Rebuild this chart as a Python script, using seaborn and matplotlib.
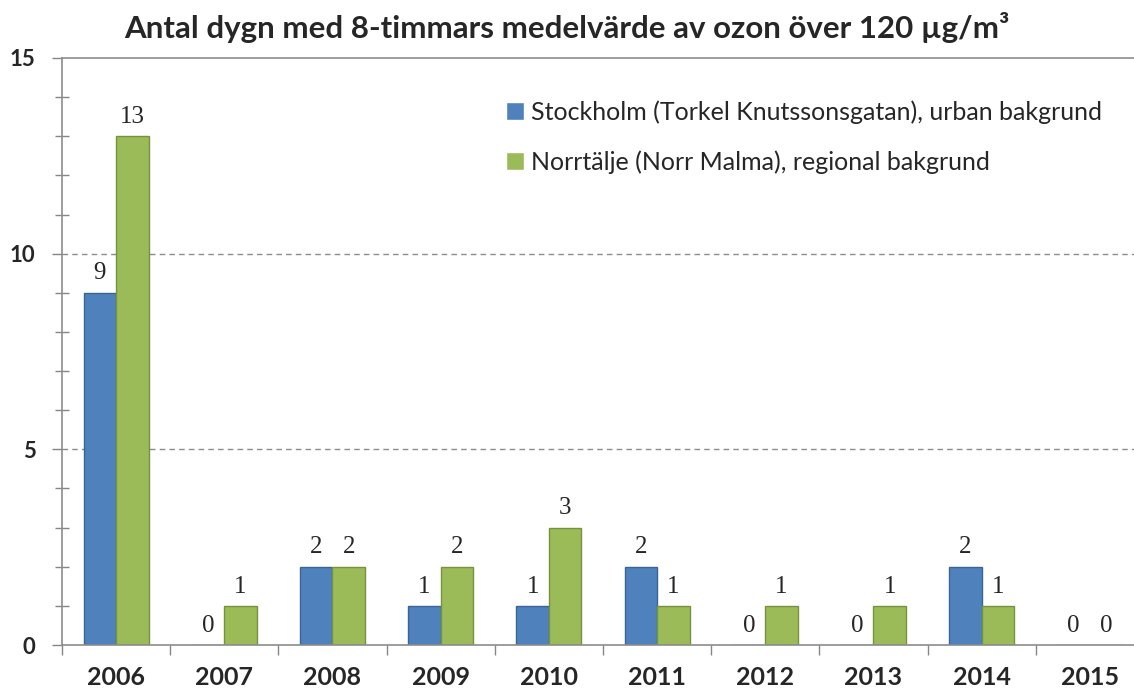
import pandas as pd
import matplotlib.pyplot as plt
import seaborn as sns
from matplotlib.ticker import MultipleLocator, FixedLocator

# Data
years = ['2006', '2007', '2008', '2009', '2010', '2011', '2012', '2013', '2014', '2015']
stockholm = [9, 0, 2, 1, 1, 2, 0, 0, 2, 0]
norrtalje = [13, 1, 2, 2, 3, 1, 1, 1, 1, 0]
series = ['Stockholm (Torkel Knutssonsgatan), urban bakgrund',
          'Norrtälje (Norr Malma), regional bakgrund']

data = pd.DataFrame({
    'year': years * 2,
    'days': stockholm + norrtalje,
    'station': [series[0]] * len(years) + [series[1]] * len(years),
})

sns.set_style('white')
plt.rcParams['font.family'] = ['Lato', 'DejaVu Sans']

fig = plt.figure(figsize=(11.34, 6.88), dpi=100)
ax = fig.add_axes([62 / 1134, 1 - 645 / 688, 1 - 62 / 1134, (645 - 58) / 688])

sns.barplot(data=data, x='year', y='days', hue='station', order=years,
            hue_order=series, palette=['#4F81BD', '#9BBB59'],
            width=0.6, gap=0, saturation=1, ax=ax)

# darker outlines like the original
for cont, ec in zip(ax.containers, ['#3A6496', '#76923C']):
    for bar in cont:
        bar.set_edgecolor(ec)
        bar.set_linewidth(1.0)
    ax.bar_label(cont, fmt='%d', padding=6, fontsize=18,
                 family=['Liberation Serif'])

ax.set_ylim(0, 15)
ax.set_xlim(-0.5, (1134 - 116) / 108.2)
ax.set_xlabel('')
ax.set_ylabel('')

ax.yaxis.set_major_locator(MultipleLocator(5))
ax.yaxis.set_minor_locator(MultipleLocator(1))
ax.xaxis.set_minor_locator(FixedLocator([i - 0.5 for i in range(len(years) + 1)]))

ax.tick_params(axis='y', which='major', direction='out', length=7, width=1,
               color='#868686', labelsize=16, pad=12, left=True)
ax.tick_params(axis='y', which='minor', direction='inout', length=10, width=1,
               color='#868686', left=True)
ax.tick_params(axis='x', which='major', length=0, labelsize=18, pad=15)
ax.tick_params(axis='x', which='minor', direction='out', length=7, width=1,
               color='#868686', bottom=True)
for lbl in ax.get_xticklabels() + ax.get_yticklabels():
    lbl.set_fontweight('bold')

# dashed gridlines at 5 and 10
for v in [5, 10]:
    ax.axhline(v, color='#8C8C8C', linestyle=(0, (4, 3)), linewidth=1, zorder=0)

for side in ['left', 'bottom', 'top']:
    ax.spines[side].set_color('#8C8C8C')
    ax.spines[side].set_linewidth(1.2)
ax.spines['right'].set_visible(False)

ax.legend(loc='upper left', bbox_to_anchor=(0.405, 0.945), frameon=False,
          fontsize=18, handlelength=0.7, handleheight=0.7,
          handletextpad=0.3, labelspacing=1.05, borderaxespad=0)

fig.text(0.5, 0.96, 'Antal dygn med 8-timmars medelvärde av ozon över 120 µg/m³',
         ha='center', va='center', fontsize=22.5, fontweight='bold')

fig.savefig('out.png', dpi=100)
